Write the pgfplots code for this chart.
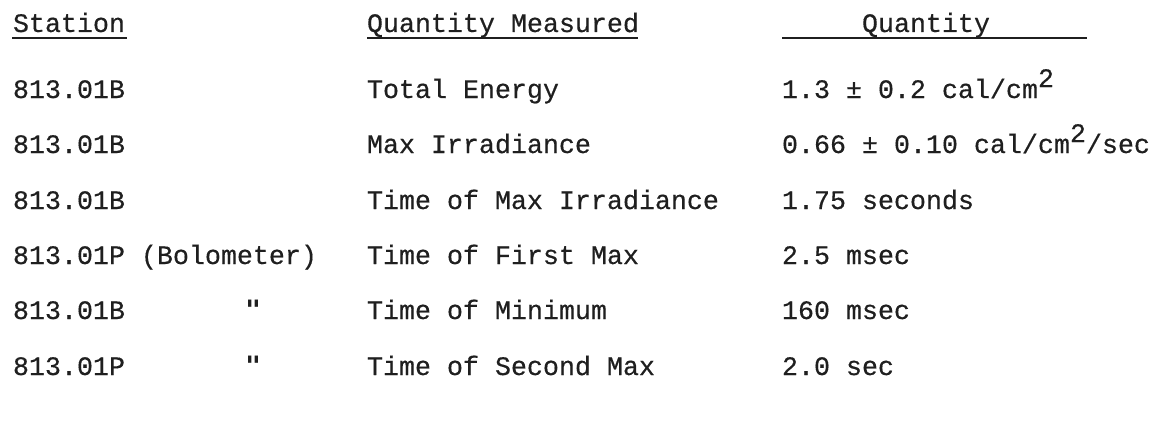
\documentclass[border=0pt]{standalone}
\usepackage{pgfplots}
\pgfplotsset{compat=1.18}
\usepackage{fontspec}
\setmainfont{Liberation Mono}[FakeBold=0.4, BoldFont={Liberation Mono}]
\newfontfamily\dv{DejaVu Sans Mono}
\newcommand{\sq}{\raisebox{5.5pt}{2}}
\tikzset{t/.style={font=\fontsize{13.33}{16}\selectfont\bfseries, inner sep=0pt, outer sep=0pt, anchor=base west, text=black!88}}
\begin{document}
\begin{tikzpicture}
\begin{axis}[
  scale only axis, width=585pt, height=211.5pt,
  xmin=0, xmax=1170, ymin=0, ymax=423, y dir=reverse,
  hide axis, clip=false,
]
\path[use as bounding box] (rel axis cs:0,0) rectangle (rel axis cs:1,1);
% header
\node[t] at (axis cs:13,32) {Station};
\node[t] at (axis cs:367,32) {Quantity Measured};
\node[t] at (axis cs:862,32) {Quantity};
\draw[line width=1.1pt, black!88] (axis cs:12,38) -- (axis cs:127,38);
\draw[line width=1.1pt, black!88] (axis cs:367,38) -- (axis cs:638,38);
\draw[line width=1.1pt, black!88] (axis cs:782,38) -- (axis cs:1087,38);
% column 1
\node[t] at (axis cs:13,98) {813.01B};
\node[t] at (axis cs:13,153) {813.01B};
\node[t] at (axis cs:13,209) {813.01B};
\node[t] at (axis cs:13,264) {813.01P (Bolometer)};
\node[t] at (axis cs:13,319) {813.01B};
\node[t] at (axis cs:245,319) {{\dv\symbol{34}}};
\node[t] at (axis cs:13,375) {813.01P};
\node[t] at (axis cs:245,375) {{\dv\symbol{34}}};
% column 2
\node[t] at (axis cs:367,98) {Total Energy};
\node[t] at (axis cs:367,153) {Max Irradiance};
\node[t] at (axis cs:367,209) {Time of Max Irradiance};
\node[t] at (axis cs:367,264) {Time of First Max};
\node[t] at (axis cs:367,319) {Time of Minimum};
\node[t] at (axis cs:367,375) {Time of Second Max};
% column 3
\node[t] at (axis cs:782,98) {1.3 ± 0.2 cal/cm\sq};
\node[t] at (axis cs:782,153) {0.66 ± 0.10 cal/cm\sq/sec};
\node[t] at (axis cs:782,209) {1.75 seconds};
\node[t] at (axis cs:782,264) {2.5 msec};
\node[t] at (axis cs:782,319) {160 msec};
\node[t] at (axis cs:782,375) {2.0 sec};
\end{axis}
\end{tikzpicture}
\end{document}
